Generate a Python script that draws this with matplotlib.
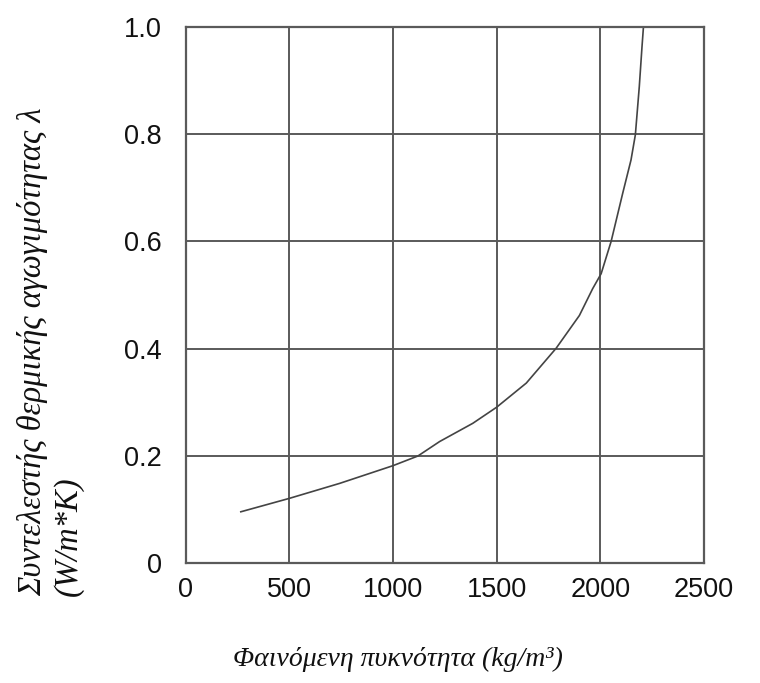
import numpy as np
import matplotlib
matplotlib.use('Agg')
import matplotlib.pyplot as plt

# apparent density (kg/m3) and thermal conductivity (W/m*K)
density = [266, 500, 743, 1000, 1120, 1225, 1385, 1500, 1643, 1787, 1899, 1963, 2004, 2052, 2108, 2148,
           2169, 2188, 2201, 2208]
conductivity = [0.096, 0.121, 0.149, 0.182, 0.200, 0.227, 0.261, 0.291, 0.336, 0.401, 0.462, 0.512, 0.540,
                0.600, 0.690, 0.752, 0.799, 0.889, 0.963, 1.000]

x_ticks = [0, 500, 1000, 1500, 2000, 2500]
x_tick_labels = ['0', '500', '1000', '1500', '2000', '2500']
y_ticks = [0, 0.2, 0.4, 0.6, 0.8, 1.0]
y_tick_labels = ['0', '0.2', '0.4', '0.6', '0.8', '1.0']

grid_color = '#5a5a5a'

fig = plt.figure(figsize=(7.6, 6.83), dpi=100)
ax = fig.add_axes([0.2443, 0.1753, 0.682, 0.7852])

ax.plot(density, conductivity, color='#444444', linewidth=1.2)

ax.set_xlim(0, 2500)
ax.set_ylim(0, 1.0)
ax.set_xticks(x_ticks)
ax.set_xticklabels(x_tick_labels)
ax.set_yticks(y_ticks)
ax.set_yticklabels(y_tick_labels)
ax.tick_params(length=0, labelsize=19.5, labelcolor='#111111')
ax.tick_params(axis='x', pad=10)
ax.tick_params(axis='y', pad=17)
for lbl in ax.get_xticklabels() + ax.get_yticklabels():
    lbl.set_family('Liberation Sans')

ax.grid(True, color=grid_color, linewidth=1.4)
for spine in ax.spines.values():
    spine.set_color(grid_color)
    spine.set_linewidth(1.6)

label_font = dict(family='Liberation Serif', style='italic', color='#111111')
fig.text(0.524, 0.034, 'Φαινόμενη πυκνότητα (kg/m³)', ha='center', va='center', size=20, **label_font)
fig.text(0.066, 0.485, 'Συντελεστής θερμικής αγωγιμότητας λ\n(W/m*K)', rotation=90,
         ha='center', va='center', multialignment='left', size=23.5, **label_font)

fig.savefig('out.png', dpi=100)
